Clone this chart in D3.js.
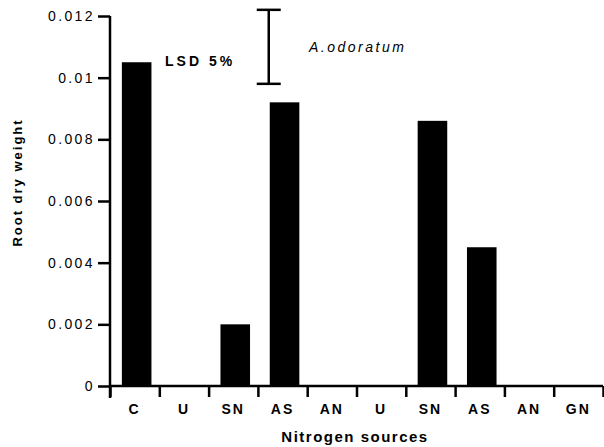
<!DOCTYPE html>
<html>
<head>
<meta charset="utf-8">
<script src="https://cdn.jsdelivr.net/npm/d3@7"></script>
<style>
  body { margin: 0; background: #fff; }
  svg { font-family: "Liberation Sans", Arial, sans-serif; }
</style>
</head>
<body>
<div id="chart"></div>
<script>
// data
const categories = ["C", "U", "SN", "AS", "AN", "U", "SN", "AS", "AN", "GN"];
const rootDryWeight = [0.0105, 0, 0.002, 0.0092, 0, 0, 0.0086, 0.0045, 0, 0];
const yTicks = [0, 0.002, 0.004, 0.006, 0.008, 0.01, 0.012];
const yTickLabels = ["0", "0.002", "0.004", "0.006", "0.008", "0.01", "0.012"];
const lsdRange = [0.0098, 0.0122];

const W = 604, H = 447;
let margin = { top: 16, right: 1, bottom: 61, left: 110 },
    width = W - margin.left - margin.right,
    height = H - margin.top - margin.bottom;

let svg = d3.select("#chart")
    .append("svg")
    .attr("width", W)
    .attr("height", H)
    .append("g")
    .attr("transform", "translate(" + margin.left + "," + margin.top + ")");

let idx = d3.range(categories.length);

let x = d3.scaleBand()
    .domain(idx)
    .range([0, width])
    .paddingInner(0.4)
    .paddingOuter(0.2);

// linear helper for the boundary ticks
let xLin = d3.scaleLinear().domain([0, categories.length]).range([0, width]);

let y = d3.scaleLinear().domain([0, 0.012]).range([height, 0]);

// ---- BARS ----
svg.selectAll(".bar")
    .data(idx)
    .enter()
    .append("rect")
    .attr("class", "bar")
    .attr("x", d => x(d) + 2)
    .attr("y", d => y(rootDryWeight[d]))
    .attr("width", x.bandwidth())
    .attr("height", d => height - y(rootDryWeight[d]))
    .attr("fill", "#000");

// ---- Y AXIS ----
let yAxis = d3.axisLeft(y)
    .tickValues(yTicks)
    .tickSize(12)
    .tickPadding(3)
    .tickFormat((d, i) => yTickLabels[i]);

let yAxisGroup = svg.append("g").attr("class", "y-axis").call(yAxis);
yAxisGroup.select(".domain").attr("stroke-width", 2.5).attr("d", "M0," + (height + 12) + "V0");
yAxisGroup.selectAll(".tick line").attr("stroke-width", 2.5);
yAxisGroup.selectAll("text")
    .style("font-size", "14px")
    .style("letter-spacing", "2.4px")
    .attr("fill", "#000");

// ---- X AXIS (boundary ticks) ----
let xTickAxis = d3.axisBottom(xLin)
    .tickValues(d3.range(categories.length + 1))
    .tickSize(11)
    .tickFormat("");

let xAxisGroup = svg.append("g")
    .attr("class", "x-axis")
    .attr("transform", "translate(0," + height + ")")
    .call(xTickAxis);
xAxisGroup.select(".domain").attr("stroke-width", 2.5).attr("d", "M0,0H" + width);
xAxisGroup.selectAll(".tick line").attr("stroke-width", 2.5);

// category labels
let xLabelAxis = d3.axisBottom(x)
    .tickSize(0)
    .tickPadding(18)
    .tickFormat(d => categories[d]);

let xLabelGroup = svg.append("g")
    .attr("transform", "translate(0," + height + ")")
    .call(xLabelAxis);
xLabelGroup.select(".domain").remove();
xLabelGroup.selectAll("text")
    .style("font-size", "14px")
    .style("font-weight", "bold")
    .style("letter-spacing", "2px")
    .attr("fill", "#000");

// ---- AXIS TITLES ----
svg.append("text")
    .attr("x", 245)
    .attr("y", height + 56)
    .attr("text-anchor", "middle")
    .style("font-size", "15px")
    .style("font-weight", "bold")
    .style("letter-spacing", "1.5px")
    .text("Nitrogen sources");

svg.append("text")
    .attr("transform", "translate(" + (-88) + "," + (y(0.0066)) + ") rotate(-90)")
    .attr("text-anchor", "middle")
    .style("font-size", "13px")
    .style("font-weight", "bold")
    .style("letter-spacing", "2px")
    .text("Root dry weight");

// ---- LSD bar ----
let lsdX = xLin(3.22);
let lsd = svg.append("g").attr("stroke", "#000").attr("stroke-width", 2.5);
lsd.append("line").attr("x1", lsdX).attr("x2", lsdX).attr("y1", y(lsdRange[0])).attr("y2", y(lsdRange[1]));
lsd.append("line").attr("x1", lsdX - 12).attr("x2", lsdX + 12).attr("y1", y(lsdRange[0])).attr("y2", y(lsdRange[0]));
lsd.append("line").attr("x1", lsdX - 12).attr("x2", lsdX + 12).attr("y1", y(lsdRange[1])).attr("y2", y(lsdRange[1]));

svg.append("text")
    .attr("x", 55)
    .attr("y", 50)
    .style("font-size", "14px")
    .style("font-weight", "bold")
    .style("letter-spacing", "3px")
    .text("LSD 5%");

svg.append("text")
    .attr("x", 199)
    .attr("y", 36)
    .style("font-size", "14px")
    .style("font-style", "italic")
    .style("letter-spacing", "2.5px")
    .text("A.odoratum");
</script>
</body>
</html>
